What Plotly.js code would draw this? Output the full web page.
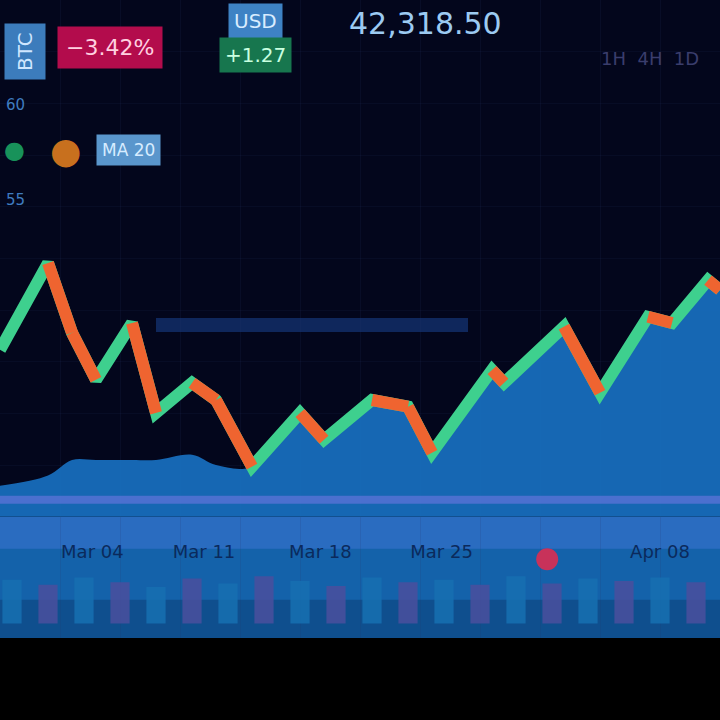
<!DOCTYPE html>
<html><head><meta charset="utf-8">
<script src="https://cdn.plot.ly/plotly-3.0.1.min.js"></script>
<style>html,body{margin:0;padding:0;background:#000;}#chart{width:720px;height:720px;}</style>
</head><body><div id="chart"></div>
<script>
// ---- data ----
const days = [0,4,6,8,11,13,16,18,21,25,27,31,34,36,41,42,47,50,54,56,59,60];
const price = [32.3,49.1,35.6,26.5,37.5,20.1,25.9,22.6,9.7,20.1,14.9,22.6,21.3,12.4,28.4,25.9,36.8,24.0,38.7,37.5,45.8,43.9];
const areaTop = [6,8,11,11,11,11,12,10,9.7,20.1,14.9,22.6,21.3,12.4,28.4,25.9,36.8,24.0,38.7,37.5,45.8,43.9];
const volDays = [1,4,7,10,13,16,19,22,25,28,31,34,37,40,43,46,49,52,55,58];
const volume = [3.6,3.2,3.8,3.4,3.0,3.7,3.3,3.9,3.5,3.1,3.8,3.4,3.6,3.2,3.9,3.3,3.7,3.5,3.8,3.4];
const volColors = ['#1670b2','#4a4f9e','#1670b2','#4a4f9e','#1670b2','#4a4f9e','#1670b2','#4a4f9e','#1670b2','#4a4f9e','#1670b2','#4a4f9e','#1670b2','#4a4f9e','#1670b2','#4a4f9e','#1670b2','#4a4f9e','#1670b2','#4a4f9e'];
const tickDays = [7.7,17,26.7,36.8,55];
const tickLabels = ['Mar 04','Mar 11','Mar 18','Mar 25','Apr 08'];
const supportLevel = 37.1;
const baseLevel = 3.3;

const traces = [];
// filled area under price
traces.push({x: days, y: areaTop, type:'scatter', mode:'lines', line:{width:0, shape:'spline'},
  fill:'tozeroy', fillcolor:'rgba(24,112,192,0.92)', hoverinfo:'skip', showlegend:false});
// continuous base line (rising colour)
traces.push({x: days, y: price, type:'scatter', mode:'lines', line:{color:'#3ed08e', width:12},
  hoverinfo:'skip', showlegend:false});
// falling segments over it
for (let i = 0; i < days.length - 1; i++) {
  if (price[i+1] < price[i]) {
    traces.push({x:[days[i],days[i+1]], y:[price[i],price[i+1]], type:'scatter', mode:'lines',
      line:{color:'#ef6430', width:12}, hoverinfo:'skip', showlegend:false});
  }
}
// volume bars
traces.push({x: volDays, y: volume, base: 1.2, type:'bar', marker:{color: volColors, opacity:0.85},
  width: 1.6, xaxis:'x', yaxis:'y2', showlegend:false, hoverinfo:'skip'});
// date labels inside lower panel
traces.push({x: tickDays, y: tickDays.map(()=>7.0), type:'scatter', mode:'text', text: tickLabels,
  textfont:{family:'DejaVu Sans', size:18, color:'#0b2a5c'}, xaxis:'x', yaxis:'y2', showlegend:false, hoverinfo:'skip'});
traces.push({x:[45.6], y:[6.5], type:'scatter', mode:'markers', marker:{color:'#c8325a', size:22},
  xaxis:'x', yaxis:'y2', showlegend:false, hoverinfo:'skip'});

const H = 638;
const py = p => 1 - p / H;
const px = p => p / 720;
const ann = (x, y, text, size, color, extra) => Object.assign({xref:'paper', yref:'paper', x:px(x), y:py(y),
  xanchor:'center', yanchor:'middle', text:text, showarrow:false,
  font:{family:'DejaVu Sans', size:size, color:color}}, extra || {});
const layout = {
  width:720, height:720,
  margin:{l:0, r:0, t:0, b:82},
  paper_bgcolor:'#000000', plot_bgcolor:'#03061c',
  xaxis:{range:[0,60], showgrid:true, gridcolor:'rgba(40,55,110,0.15)', dtick:5, zeroline:false,
    showticklabels:false, anchor:'y2'},
  yaxis:{domain:[0.19,1], range:[0,100], showgrid:true, gridcolor:'rgba(40,55,110,0.12)', dtick:10,
    zeroline:false, showticklabels:false},
  yaxis2:{domain:[0,0.19], range:[0,10], showgrid:false, zeroline:false, showticklabels:false},
  shapes:[
    {type:'rect', xref:'paper', yref:'paper', x0:0, x1:1, y0:0, y1:0.19, fillcolor:'#1462aa', line:{width:0}, layer:'below'},
    {type:'rect', xref:'paper', yref:'paper', x0:0, x1:1, y0:0.14, y1:0.19, fillcolor:'#2a6cc0', line:{width:0}, layer:'below'},
    {type:'rect', xref:'paper', yref:'paper', x0:0, x1:1, y0:0, y1:0.06, fillcolor:'#0f4f8e', line:{width:0}, layer:'below'},
    {type:'line', xref:'x', yref:'y', x0:0, x1:60, y0:baseLevel, y1:baseLevel, line:{color:'rgba(120,120,230,0.55)', width:8}},
    {type:'line', xref:'x', yref:'y', x0:13, x1:39, y0:supportLevel, y1:supportLevel, line:{color:'rgba(30,80,170,0.45)', width:14}, layer:'below'}
  ],
  annotations:[
    ann(25, 52, 'BTC', 20, '#cfe6ff', {textangle:-90, bgcolor:'#3c7cbc', borderpad:8}),
    ann(110, 48, '−3.42%', 22, '#ffd0e0', {bgcolor:'#b30c4c', borderpad:8}),
    ann(255, 21, 'USD', 20, '#d8ecff', {bgcolor:'#3e82c4', borderpad:5}),
    ann(255, 55, '+1.27', 20, '#c8ffe0', {bgcolor:'#17764e', borderpad:5}),
    ann(425, 24, '42,318.50', 30, '#9ccaf2'),
    ann(650, 58, '1H  4H  1D', 18, '#3a3d6c'),
    ann(14, 150, '●', 24, '#18925a'),
    ann(65, 150, '●', 36, '#c8701e'),
    ann(128, 150, 'MA 20', 17, '#d6ecff', {bgcolor:'#5a96cc', borderpad:5}),
    ann(15, 105, '60', 15, '#3f7cc0'),
    ann(15, 200, '55', 15, '#3f7cc0')
  ]
};
Plotly.newPlot('chart', traces, layout, {displayModeBar:false, staticPlot:true});
</script></body></html>
